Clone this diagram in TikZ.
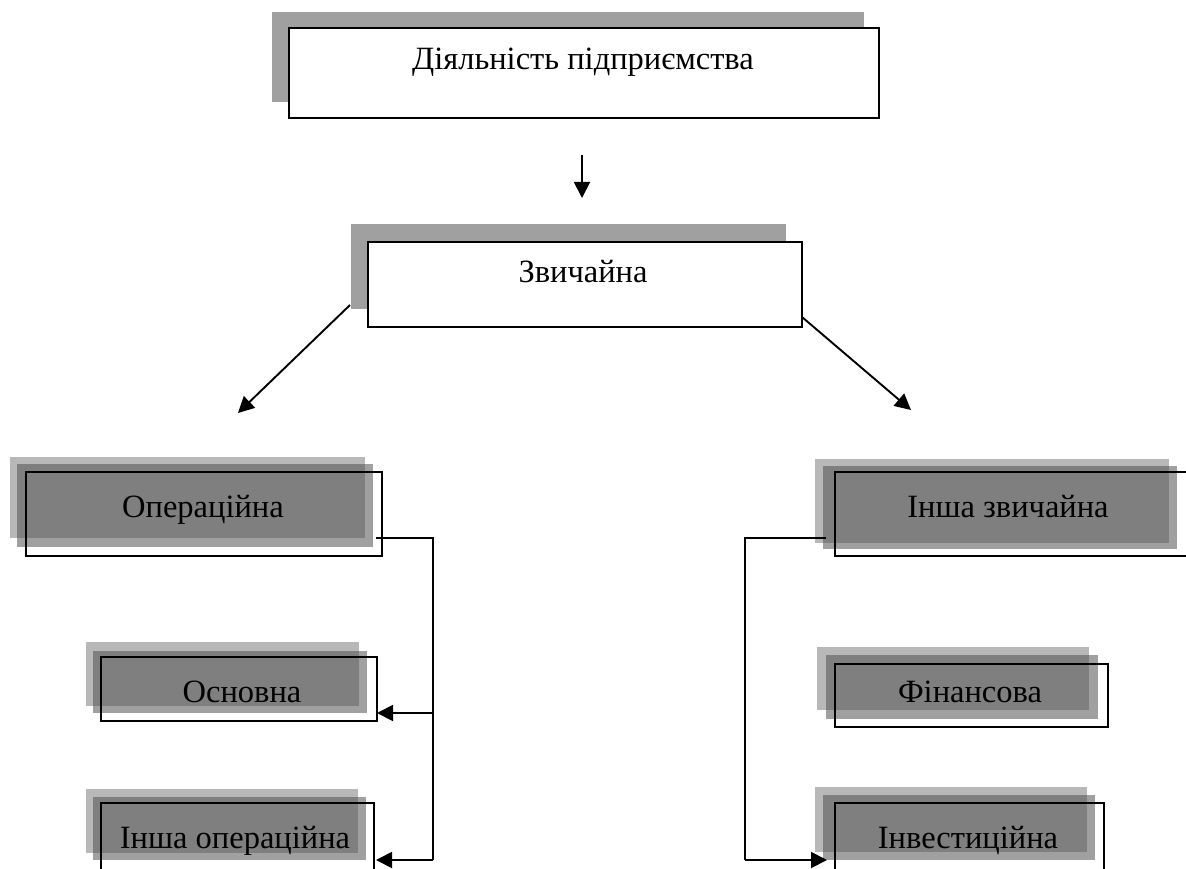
\documentclass[tikz,border=0pt]{standalone}
\usepackage{fontspec}
\setmainfont{Liberation Serif}
\usetikzlibrary{arrows.meta}
\definecolor{shlight}{HTML}{B8B8B8}
\definecolor{shmid}{HTML}{A0A0A0}
\definecolor{shdark}{HTML}{7F7F7F}
\begin{document}
\begin{tikzpicture}[x=1pt,y=-1pt,
  lbl/.style={font=\fontsize{32.5}{38}\selectfont, anchor=base, inner sep=0pt},
  whitebox/.style={draw=black, line width=1.8pt, fill=white, inner sep=0pt},
  framebox/.style={draw=black, line width=2.8pt, inner sep=0pt},
  conn/.style={line width=1.9pt},
  arr/.style={conn, -{Triangle[length=16pt,width=16pt]}}]
\useasboundingbox (0,0) rectangle (1186,869);
\fill[white] (0,0) rectangle (1186,869);

% ---- top box
\fill[shmid] (272,12) rectangle (864,102);
\node[whitebox, minimum width=590pt, minimum height=90pt] (topbox) at (584,73) {};
\node[lbl] (toptxt) at (583,70) {Діяльність підприємства};

% ---- arrow down
\coordinate (d1) at (582,155);
\coordinate (d2) at (582,198);
\draw[arr] (d1) -- (d2);

% ---- second box
\fill[shmid] (351,224) rectangle (786,309);
\node[whitebox, minimum width=434pt, minimum height=85pt] (midbox) at (585,284.5) {};
\node[lbl] (midtxt) at (583,282) {Звичайна};

% ---- diagonal arrows
\coordinate (l1) at (350,305);
\coordinate (l2) at (238,413);
\draw[arr] (l1) -- (l2);
\coordinate (r1) at (802,317);
\coordinate (r2) at (911,410);
\draw[arr] (r1) -- (r2);

% ---- Операційна
\fill[shlight] (10,457) rectangle (365,538);
\fill[shmid] (17,464) rectangle (373,547);
\fill[shdark] (17,464) rectangle (365,538);
\node[framebox, minimum width=356pt, minimum height=84pt] (opbox) at (204,514) {};
\node[lbl] (optxt) at (203,517) {Операційна};

% ---- Основна
\fill[shlight] (86,642) rectangle (359,706);
\fill[shmid] (93,651) rectangle (367,713);
\fill[shdark] (93,651) rectangle (359,706);
\node[framebox, minimum width=276pt, minimum height=64pt] (osbox) at (239,689) {};
\node[lbl] (ostxt) at (242,702) {Основна};

% ---- Інша операційна
\fill[shlight] (86,789) rectangle (358,853);
\fill[shmid] (93,797) rectangle (366,860);
\fill[shdark] (93,797) rectangle (358,853);
\node[framebox, minimum width=273pt, minimum height=100pt] (iobox) at (237.5,853) {};
\node[lbl] (iotxt) at (235,848) {Інша операційна};

% ---- Інша звичайна
\fill[shlight] (815,459) rectangle (1169,543);
\fill[shmid] (823,466) rectangle (1177,549);
\fill[shdark] (823,466) rectangle (1169,543);
\node[framebox, minimum width=380pt, minimum height=84pt] (izbox) at (1025,514) {};
\node[lbl] (iztxt) at (1008,517) {Інша звичайна};

% ---- Фінансова
\fill[shlight] (817,647) rectangle (1089,710);
\fill[shmid] (826,655) rectangle (1098,719);
\fill[shdark] (826,655) rectangle (1089,710);
\node[framebox, minimum width=273pt, minimum height=63pt] (fnbox) at (971.5,695.5) {};
\node[lbl] (fntxt) at (970,702) {Фінансова};

% ---- Інвестиційна
\fill[shlight] (815,787) rectangle (1087,852);
\fill[shmid] (823,795) rectangle (1095,860);
\fill[shdark] (823,795) rectangle (1087,852);
\node[framebox, minimum width=269pt, minimum height=100pt] (inbox) at (969.5,853) {};
\node[lbl] (intxt) at (968,848) {Інвестиційна};

% ---- left bracket connector
\coordinate (la) at (376,538);
\coordinate (lb) at (433,538);
\coordinate (lc) at (433,713);
\coordinate (ld) at (433,860);
\coordinate (le) at (377,713);
\coordinate (lf) at (376,860);
\draw[conn] (la) -- (lb) -- (ld);
\draw[arr] (lc) -- (le);
\draw[arr] (ld) -- (lf);

% ---- right bracket connector
\coordinate (ra) at (826,538);
\coordinate (rb) at (745,538);
\coordinate (rc) at (745,860);
\coordinate (rd) at (827,860);
\draw[conn] (ra) -- (rb) -- (rc);
\draw[arr] (rc) -- (rd);
\end{tikzpicture}
\end{document}
